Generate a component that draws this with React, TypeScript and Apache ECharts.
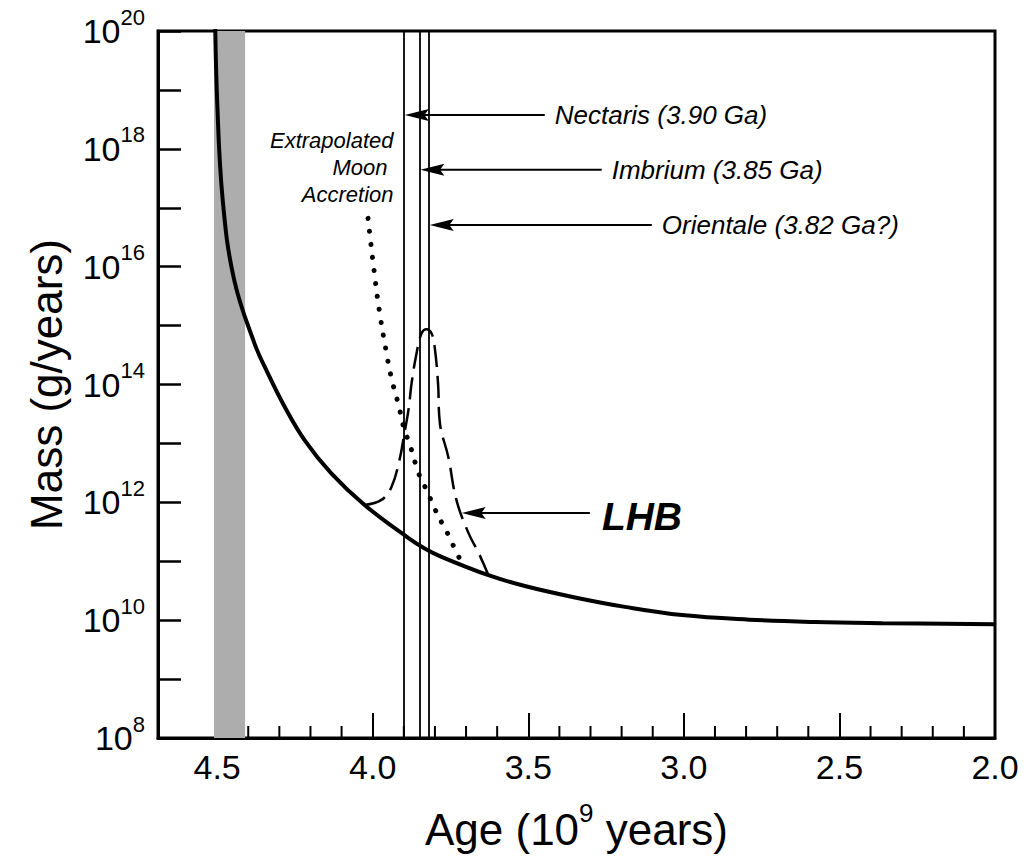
import React, { useEffect, useRef } from 'react';
import * as echarts from 'echarts';

const FONT = '"Liberation Sans", Arial, Helvetica, sans-serif';

// Axis extents: age in Ga (reversed), mass flux in g/yr (log scale)
const AGE_MIN = 2.0;
const AGE_MAX = 4.69;
const MASS_MIN = 1e8;
const MASS_MAX = 1e20;

const xTickLabels = ['4.5', '4.0', '3.5', '3.0', '2.5', '2.0'];
const minorTickAges = [
  4.4, 4.3, 4.2, 4.1, 3.9, 3.8, 3.7, 3.6, 3.4, 3.3, 3.2, 3.1,
  2.9, 2.8, 2.7, 2.6, 2.4, 2.3, 2.2, 2.1,
];
const yLabelExponents = [8, 10, 12, 14, 16, 18, 20];

// Declining accretion flux after planet formation: [age (Ga), g/yr]
const accretionCurve: [number, number][] = [
  [4.507, 2.5e20],
  [4.5, 6.8e18],
  [4.482, 1.35e17],
  [4.445, 5.9e15],
  [4.38, 5.0e14],
  [4.337, 1.55e14],
  [4.283, 4.2e13],
  [4.219, 1.14e13],
  [4.133, 3.1e12],
  [4.026, 9.0e11],
  [3.886, 2.5e11],
  [3.833, 1.65e11],
  [3.779, 1.19e11],
  [3.628, 5.8e10],
  [3.511, 3.8e10],
  [3.35, 2.43e10],
  [3.189, 1.68e10],
  [3.006, 1.22e10],
  [2.79, 1.02e10],
  [2.578, 9.3e9],
  [2.362, 8.9e9],
  [2.0, 8.5e9],
];

// Extrapolated Moon accretion (dotted)
const moonExtrapolation: [number, number][] = [
  [4.015, 6.6e16],
  [3.995, 8.1e15],
  [3.978, 1.7e15],
  [3.956, 3.5e14],
  [3.94, 1.3e14],
  [3.917, 4.5e13],
  [3.898, 1.7e13],
  [3.882, 1.0e13],
  [3.853, 3.2e12],
  [3.837, 2.1e12],
  [3.817, 1.23e12],
  [3.801, 7.9e11],
  [3.779, 4.6e11],
  [3.756, 2.75e11],
  [3.737, 1.66e11],
  [3.721, 1.12e11],
];

// Late Heavy Bombardment spike (dashed)
const lhbSpike: [number, number][] = [
  [4.026, 9.0e11],
  [3.972, 1.1e12],
  [3.94, 1.8e12],
  [3.914, 5.2e12],
  [3.898, 1.5e13],
  [3.885, 3.7e13],
  [3.875, 1.05e14],
  [3.859, 3.4e14],
  [3.843, 7.4e14],
  [3.827, 8.7e14],
  [3.811, 7.4e14],
  [3.801, 4.4e14],
  [3.79, 1.05e14],
  [3.784, 2.2e13],
  [3.757, 5.9e12],
  [3.731, 1.1e12],
  [3.692, 3.0e11],
  [3.66, 1.4e11],
  [3.628, 5.8e10],
];

// Basin-forming impacts
const basinNames = ['Nectaris (3.90 Ga)', 'Imbrium (3.85 Ga)', 'Orientale (3.82 Ga?)'];
const basinAges = [3.9, 3.85, 3.82];
const basinArrowMass = [3.75e18, 4.4e17, 5.1e16];
const basinArrowTailAge = [3.447, 3.264, 3.103];

// Planet formation interval (shaded band)
const formationBand = [4.51, 4.41];

// LHB pointer
const lhbLabel = 'LHB';
const lhbArrowMass = 6.6e11;
const lhbArrowTailAge = 3.302;
const lhbArrowTipAge = 3.714;

// Moon accretion caption anchor
const moonCaption = 'Extrapolated\nMoon \nAccretion';
const moonCaptionAge = 3.933;
const moonCaptionMass = 4.9e17;

export default function App() {
  const ref = useRef<HTMLDivElement>(null);

  useEffect(() => {
    const chart = echarts.init(ref.current!, null, { renderer: 'svg' });

    const option: any = {
      animation: false,
      backgroundColor: '#ffffff',
      grid: {
        left: 158,
        right: 29,
        top: 31,
        bottom: 125,
        show: true,
        borderColor: '#000',
        borderWidth: 3,
        backgroundColor: 'transparent',
      },
      xAxis: {
        type: 'value',
        inverse: true,
        min: AGE_MIN,
        max: AGE_MAX,
        interval: 0.5,
        axisLine: { show: true, onZero: false, lineStyle: { color: '#000', width: 3 } },
        axisTick: { show: true, inside: true, length: 25, lineStyle: { color: '#000', width: 2 } },
        axisLabel: {
          color: '#000',
          fontFamily: FONT,
          fontSize: 34,
          margin: 12,
          formatter: (v: number) => {
            const s = v.toFixed(1);
            return xTickLabels.includes(s) && Math.abs(v - Number(s)) < 1e-6 ? s : '';
          },
        },
        splitLine: { show: false },
        name: '{t|Age (10}{s|9}{t| years)}',
        nameLocation: 'middle',
        nameGap: 62,
        nameTextStyle: {
          rich: {
            t: { fontSize: 44, fontFamily: FONT, color: '#000', lineHeight: 58 },
            s: { fontSize: 26, fontFamily: FONT, color: '#000', lineHeight: 26, verticalAlign: 'top' },
          },
        },
      },
      yAxis: {
        type: 'log',
        logBase: 10,
        min: MASS_MIN,
        max: MASS_MAX,
        interval: 1,
        splitNumber: 12,
        axisLine: { show: true, onZero: false, lineStyle: { color: '#000', width: 3 } },
        axisTick: { show: true, inside: true, length: 23, lineStyle: { color: '#000', width: 2.5 } },
        axisLabel: {
          margin: 13,
          formatter: (v: number) => {
            const e = Math.round(Math.log10(v));
            return yLabelExponents.includes(e) ? `{b|10}{e|${e}}` : '';
          },
          rich: {
            b: { fontSize: 34, fontFamily: FONT, color: '#000', lineHeight: 50 },
            e: { fontSize: 22, fontFamily: FONT, color: '#000', lineHeight: 22, verticalAlign: 'top' },
          },
        },
        splitLine: { show: false },
        name: 'Mass (g/years)',
        nameLocation: 'middle',
        nameRotate: 90,
        nameGap: 90,
        nameTextStyle: { fontSize: 44, fontFamily: FONT, color: '#000' },
      },
      series: [
        {
          name: 'formation',
          type: 'line',
          data: [],
          z: 1,
          silent: true,
          markArea: {
            silent: true,
            itemStyle: { color: '#adadad' },
            data: [[{ xAxis: formationBand[0] }, { xAxis: formationBand[1] }]],
          },
        },
        {
          name: 'basins',
          type: 'line',
          data: [],
          z: 2,
          silent: true,
          markLine: {
            silent: true,
            symbol: 'none',
            label: { show: false },
            lineStyle: { color: '#000', width: 1.8, type: 'solid' },
            data: basinAges.map((a) => ({ xAxis: a })),
          },
        },
        {
          name: 'accretion',
          type: 'line',
          data: accretionCurve,
          smooth: 0.4,
          showSymbol: false,
          z: 4,
          lineStyle: { color: '#000', width: 4 },
        },
        {
          name: 'moon',
          type: 'line',
          data: moonExtrapolation,
          smooth: 0.5,
          showSymbol: false,
          z: 3,
          lineStyle: { color: '#000', width: 5, type: [0.1, 13], cap: 'round' },
        },
        {
          name: 'lhb',
          type: 'line',
          data: lhbSpike,
          smooth: 0.4,
          showSymbol: false,
          z: 3,
          lineStyle: { color: '#000', width: 2.5, type: [22, 9] },
        },
        {
          name: 'minorTicks',
          type: 'custom',
          silent: true,
          z: 5,
          data: minorTickAges.map((a) => [a, MASS_MIN]),
          encode: { x: 0, y: 1 },
          renderItem: (params: any, api: any) => {
            const p = api.coord([api.value(0), api.value(1)]);
            const cs = params.coordSys;
            const yb = cs.y + cs.height;
            return {
              type: 'line',
              shape: { x1: p[0], y1: yb, x2: p[0], y2: yb - 12 },
              style: { stroke: '#000', lineWidth: 2 },
            };
          },
        },
      ],
    };

    chart.setOption(option);

    const px = (age: number, mass: number) =>
      chart.convertToPixel({ gridIndex: 0 }, [age, mass]) as number[];

    const arrow = (tailAge: number, tipAge: number, mass: number, tipPad: number) => {
      const tail = px(tailAge, mass);
      const tip = px(tipAge, mass);
      const tx = tip[0] + tipPad;
      const y = tip[1];
      const L = 24;
      const w = 6;
      return [
        {
          type: 'line',
          silent: true,
          z: 10,
          shape: { x1: tail[0], y1: y, x2: tx + L * 0.8, y2: y },
          style: { stroke: '#000', lineWidth: 2 },
        },
        {
          type: 'polygon',
          silent: true,
          z: 10,
          shape: {
            points: [
              [tx, y],
              [tx + L, y - w],
              [tx + L * 0.82, y],
              [tx + L, y + w],
            ],
          },
          style: { fill: '#000' },
        },
      ];
    };

    const graphics: any[] = [];
    basinNames.forEach((name, i) => {
      graphics.push(...arrow(basinArrowTailAge[i], basinAges[i], basinArrowMass[i], 1));
      const tail = px(basinArrowTailAge[i], basinArrowMass[i]);
      graphics.push({
        type: 'text',
        silent: true,
        z: 10,
        x: tail[0] + 10,
        y: tail[1],
        style: {
          text: name,
          fill: '#000',
          fontFamily: FONT,
          fontSize: 26,
          fontStyle: 'italic',
          align: 'left',
          verticalAlign: 'middle',
        },
      });
    });

    graphics.push(...arrow(lhbArrowTailAge, lhbArrowTipAge, lhbArrowMass, 0));
    const lhbTail = px(lhbArrowTailAge, lhbArrowMass);
    graphics.push({
      type: 'text',
      silent: true,
      z: 10,
      x: lhbTail[0] + 12,
      y: lhbTail[1] + 4,
      style: {
        text: lhbLabel,
        fill: '#000',
        fontFamily: FONT,
        fontSize: 39,
        fontStyle: 'italic',
        fontWeight: 'bold',
        align: 'left',
        verticalAlign: 'middle',
      },
    });

    const cap = px(moonCaptionAge, moonCaptionMass);
    graphics.push({
      type: 'text',
      silent: true,
      z: 10,
      x: cap[0],
      y: cap[1],
      style: {
        text: moonCaption,
        fill: '#000',
        fontFamily: FONT,
        fontSize: 22,
        fontStyle: 'italic',
        lineHeight: 27,
        align: 'right',
        verticalAlign: 'middle',
      },
    });

    chart.setOption({ graphic: graphics });

    return () => chart.dispose();
  }, []);

  return (
    <div
      ref={ref}
      style={{ position: 'fixed', left: 0, top: 0, width: 1024, height: 863, background: '#fff' }}
    />
  );
}
